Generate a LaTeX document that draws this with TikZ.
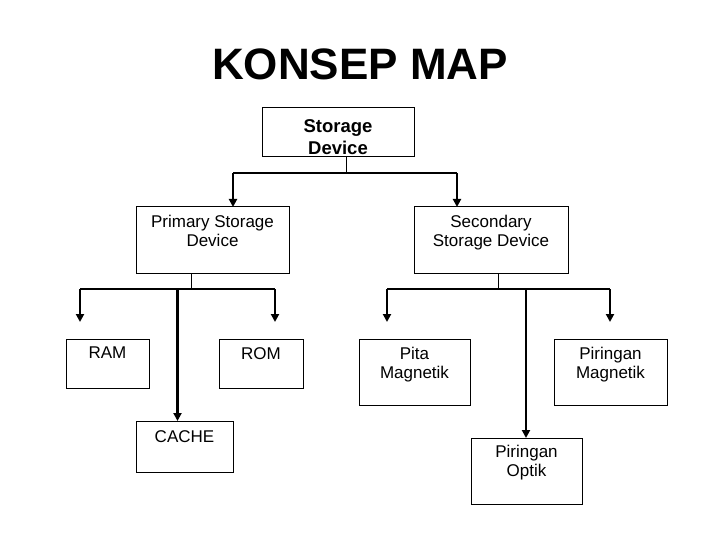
\documentclass[tikz,border=0pt]{standalone}
\usepackage{fontspec}
\setmainfont{Liberation Sans}
\usetikzlibrary{arrows.meta}
\begin{document}
\begin{tikzpicture}[x=1pt,y=-1pt,
  box/.style={draw=black, line width=1pt, inner sep=0pt, outer sep=0pt},
  lbl/.style={anchor=north, inner sep=0pt, align=center, font=\fontsize{17}{19.5}\selectfont},
  stem/.style={line width=1pt},
  branch/.style={line width=2pt},
  arr/.style={line width=2.6pt, -{Triangle[width=8pt,length=8pt]}},
  arrfree/.style={line width=2.6pt, -{Triangle[width=8pt,length=8pt]}, shorten >=0pt}]
\fill[white] (0,0) rectangle (720,540);
\useasboundingbox (0,0) rectangle (720,540);

\node[anchor=base, inner sep=0pt, font=\fontsize{44}{50}\selectfont\bfseries] (title) at (360,80) {KONSEP MAP};

% boxes
\node[box, minimum width=152, minimum height=49] (storage) at (338,132.5) {};
\node[box, minimum width=153, minimum height=66] (prim) at (212.5,240) {};
\node[box, minimum width=154, minimum height=66] (sec) at (491,240) {};
\node[box, minimum width=83, minimum height=49] (ram) at (107.5,363.5) {};
\node[box, minimum width=84, minimum height=49] (rom) at (261,363.5) {};
\node[box, minimum width=97, minimum height=51] (cache) at (184.5,446.5) {};
\node[box, minimum width=111, minimum height=66] (pita) at (414.5,372) {};
\node[box, minimum width=113, minimum height=66] (pmag) at (610.5,372) {};
\node[box, minimum width=111, minimum height=66] (popt) at (526.5,471) {};

% labels
\node[lbl, font=\fontsize{18.5}{22}\selectfont\bfseries] (tstorage) at ([yshift=-11]storage.north) {Storage\\Device};
\node[lbl] (tprim) at ([yshift=-7.5]prim.north) {Primary Storage\\Device};
\node[lbl] (tsec) at ([yshift=-7.5]sec.north) {Secondary\\Storage Device};
\node[lbl] (tram) at ([yshift=-8]ram.north) {RAM};
\node[lbl] (trom) at ([yshift=-8]rom.north) {ROM};
\node[lbl] (tcache) at ([yshift=-9]cache.north) {CACHE};
\node[lbl, font=\fontsize{17}{18.5}\selectfont] (tpita) at ([yshift=-8]pita.north) {Pita\\Magnetik};
\node[lbl, font=\fontsize{17}{18.5}\selectfont] (tpmag) at ([yshift=-8]pmag.north) {Piringan\\Magnetik};
\node[lbl, font=\fontsize{17}{18.5}\selectfont] (tpopt) at ([yshift=-7]popt.north) {Piringan\\Optik};

% top level connectors
\coordinate (j0) at (346,173);
\coordinate (j0l) at (233,173);
\coordinate (j0r) at (457,173);
\draw[stem] (storage.south -| j0) -- (j0);
\draw[branch] (j0l) -- (j0r);
\draw[arr] (j0l) -- (j0l |- prim.north);
\draw[arr] (j0r) -- (j0r |- sec.north);

% primary connectors
\coordinate (j1) at (191.5,289);
\coordinate (j1l) at (80,289);
\coordinate (j1r) at (275,289);
\coordinate (j1c) at (177.5,289);
\coordinate (eram) at (80,322);
\coordinate (erom) at (275,322);
\draw[stem] (prim.south -| j1) -- (j1);
\draw[branch] (j1l) -- (j1r);
\draw[arrfree] (j1l) -- (eram);
\draw[arrfree] (j1r) -- (erom);
\draw[arr] (j1c) -- (j1c |- cache.north);

% secondary connectors
\coordinate (j2) at (498.5,289);
\coordinate (j2l) at (387,289);
\coordinate (j2r) at (610,289);
\coordinate (j2c) at (526,289);
\coordinate (epita) at (387,322);
\coordinate (epmag) at (610,322);
\draw[stem] (sec.south -| j2) -- (j2);
\draw[branch] (j2l) -- (j2r);
\draw[arrfree] (j2l) -- (epita);
\draw[arrfree] (j2r) -- (epmag);
\draw[arr] (j2c) -- (j2c |- popt.north);
\end{tikzpicture}
\end{document}
